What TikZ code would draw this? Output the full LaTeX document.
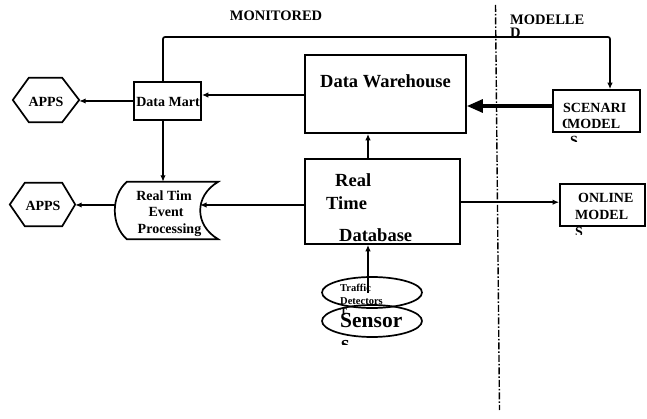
\documentclass[tikz,border=0pt]{standalone}
\usepackage{fontspec}
\setmainfont{Liberation Serif}
\usetikzlibrary{arrows.meta,shapes.geometric}
\newcommand{\fsz}[1]{\fontsize{#1}{#1}\selectfont\bfseries}
\begin{document}
\begin{tikzpicture}[x=1pt,y=-1pt,
  box/.style={draw, line width=1.8pt, inner sep=0pt},
  holder/.style={inner sep=0pt},
  lbl/.style={inner sep=0pt, font=\fsz{14}},
  arr/.style={line width=1.7pt, -{Latex[length=6.5pt,width=5.5pt]}},
  wire/.style={line width=1.7pt},
]
\useasboundingbox (0,0) rectangle (647,419);

% boxes
\node[box, minimum width=161pt, minimum height=78pt] (dw) at (385.5,94) {};
\node[box, minimum width=67pt, minimum height=38pt] (dm) at (167.5,101) {};
\node[box, minimum width=155pt, minimum height=85pt] (rtd) at (382.5,201.5) {};
\node[box, minimum width=87pt, minimum height=42pt] (sc) at (596.5,111) {};
\node[box, minimum width=85pt, minimum height=42pt] (on) at (602.5,205) {};

% hexagons
\node[holder, minimum width=66pt, minimum height=44pt] (apps1) at (46,100) {};
\node[holder, minimum width=65pt, minimum height=43pt] (apps2) at (42.5,204.5) {};
\draw[wire] (apps1.west) -- ([xshift=16pt]apps1.north west) -- ([xshift=-17pt]apps1.north east)
  -- (apps1.east) -- ([xshift=-17pt]apps1.south east) -- ([xshift=16pt]apps1.south west) -- cycle;
\draw[wire] (apps2.west) -- ([xshift=15pt]apps2.north west) -- ([xshift=-13pt]apps2.north east)
  -- (apps2.east) -- ([xshift=-13pt]apps2.south east) -- ([xshift=15pt]apps2.south west) -- cycle;

% event processing (stored data symbol)
\node[holder, minimum width=103pt, minimum height=57pt] (rtep) at (166.5,210.5) {};
\draw[wire] (rtep.north east)
  .. controls ([xshift=-24pt,yshift=-14pt]rtep.north east) and ([xshift=-24pt,yshift=14pt]rtep.south east) .. (rtep.south east)
  -- ([xshift=12pt]rtep.south west)
  .. controls ([xshift=-4pt,yshift=14pt]rtep.south west) and ([xshift=-4pt,yshift=-14pt]rtep.north west) .. ([xshift=12pt]rtep.north west)
  -- cycle;

% sensor ellipses
\node[ellipse, draw, line width=1.7pt, minimum width=100pt, minimum height=32pt, inner sep=0pt] (sensor) at (372,321) {};
\node[ellipse, draw, line width=1.7pt, minimum width=100pt, minimum height=31pt, inner sep=0pt] (traffic) at (372,292.5) {};

% region divider
\draw[line width=1.4pt, dash pattern=on 7pt off 2pt on 1.5pt off 2pt] (495.5,5) -- (499.5,410);

% headings
\node[lbl, font=\fsz{14.5}, anchor=base] (tmon) at (276,21) {MONITORED};
\node[lbl, font=\fsz{14.5}, anchor=base west] (tmod) at (510,25) {MODELLE};
\begin{scope}
  \clip (500,20) rectangle (560,36);
  \node[lbl, font=\fsz{14.5}, anchor=base west] (tmodd) at (510,38) {D};
\end{scope}

% labels
\node[lbl, anchor=base] (tapps1) at (46,107) {APPS};
\node[lbl, anchor=base] (tapps2) at (43,211) {APPS};
\node[lbl, anchor=base] (tdm) at (168,107) {Data Mart};
\node[lbl, anchor=base] (trt1) at (164,201) {Real Tim};
\node[lbl, anchor=base] (trt2) at (166,217) {Event};
\node[lbl, anchor=base] (trt3) at (169.5,234) {Processing};
\node[lbl, font=\fsz{18.5}, anchor=base] (tdw) at (385.5,88) {Data Warehouse};
\node[lbl, font=\fsz{18.5}, anchor=base west] (trd1) at (335,187) {Real};
\node[lbl, font=\fsz{18.5}, anchor=base west] (trd2) at (326,210) {Time};
\node[lbl, font=\fsz{18.5}, anchor=base west] (trd3) at (339,242) {Database};

\node[lbl, anchor=base west] (tsc1) at (563,113) {SCENARI};
\node[lbl, anchor=base west] (tsc2) at (567,129) {MODEL};
\begin{scope}
  \clip (555,118) rectangle (566,128);
  \node[lbl, anchor=base west] (tsco) at (562,129) {O};
\end{scope}
\begin{scope}
  \clip (560,134) rectangle (590,142);
  \node[lbl, anchor=base west] (tscs) at (570,146) {S};
\end{scope}

\node[lbl, anchor=base west] (ton1) at (578,203) {ONLINE};
\node[lbl, anchor=base west] (ton2) at (575,220) {MODEL};
\begin{scope}
  \clip (565,228) rectangle (595,235);
  \node[lbl, anchor=base west] (tons) at (575,237) {S};
\end{scope}

\node[lbl, font=\fsz{10.5}, anchor=base west] (ttr1) at (340,291) {Traffic};
\node[lbl, font=\fsz{10.5}, anchor=base west] (ttr2) at (340,304) {Detectors};
\begin{scope}
  \clip (335,307) rectangle (352,314);
  \node[lbl, font=\fsz{10.5}, anchor=base west] (ttrt) at (340,316) {T};
\end{scope}
\node[lbl, font=\fsz{21.5}, anchor=base west] (tsen) at (340,327) {Sensor};
\begin{scope}
  \clip (335,337) rectangle (360,344);
  \node[lbl, font=\fsz{21.5}, anchor=base west] (tsens) at (341,350) {s};
\end{scope}

% connectors
\coordinate (topy) at (0,37);
\coordinate (vx) at (368,0);
\coordinate (rtepin) at (200,205);
\coordinate (rtepout) at (116,205);
\draw[arr, rounded corners=2pt] ([xshift=-4.5pt]dm.north) -- ([xshift=-4.5pt]dm.north |- topy) -| ([xshift=13.5pt]sc.north);
\draw[arr] ([yshift=-1pt]dw.west) -- ([yshift=-1pt]dw.west -| dm.east);
\draw[arr] (dm.west) -- (dm.west -| apps1.east);
\draw[arr] ([xshift=-4.5pt]dm.south) -- ([xshift=-4.5pt]dm.south |- rtep.north);
\draw[arr] (rtd.west |- rtepin) -- (rtepin);
\draw[arr] (rtepout) -- (rtepout -| apps2.east);
\draw[arr] (rtd.north -| vx) -- (dw.south -| vx);
\draw[arr] (traffic.center -| vx) -- (rtd.south -| vx);
\draw[line width=3.2pt, -{Triangle[length=16pt,width=13pt]}] ([yshift=5pt]sc.west) -- ([yshift=5pt]sc.west -| dw.east);
\draw[arr] ([yshift=-0.7pt]rtd.east) -- ([yshift=-0.7pt]rtd.east -| on.west);
\end{tikzpicture}
\end{document}
